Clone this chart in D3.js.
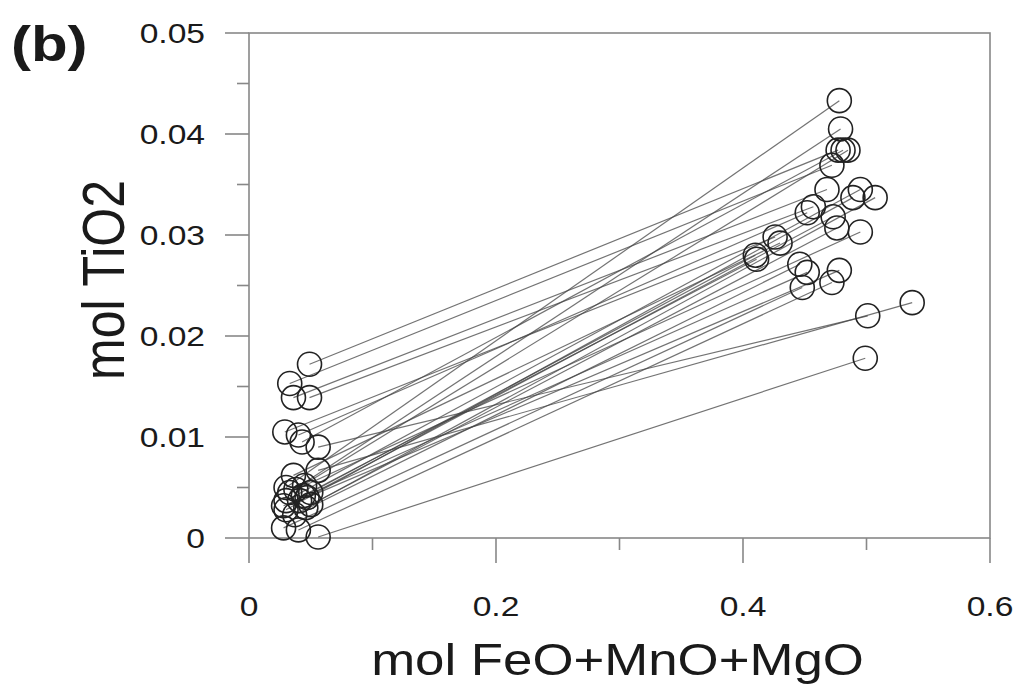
<!DOCTYPE html>
<html>
<head>
<meta charset="utf-8">
<script src="https://cdn.jsdelivr.net/npm/d3@7"></script>
<style>
  html, body { margin: 0; padding: 0; background: #fff; }
  text { font-family: "Liberation Sans", Arial, sans-serif; fill: #1a1a1a; }
</style>
</head>
<body>
<svg id="chart" width="1021" height="698"></svg>
<script>
// Low (core) end of each tie-line
const lowX  = [0.049,0.033,0.036,0.049,0.029,0.040,0.043,0.056,0.056,0.036,0.030,0.038,0.050,0.044,0.030,0.041,0.050,0.030,0.037,0.046,0.028,0.040,0.056,0.033,0.045,0.028,0.047];
const lowY  = [0.0172,0.0153,0.0139,0.0139,0.0105,0.0102,0.0095,0.0090,0.0067,0.0062,0.0050,0.0048,0.0045,0.0042,0.0037,0.0037,0.0033,0.0028,0.0023,0.0030,0.0010,0.0008,0.0001,0.0045,0.0052,0.0032,0.0040];
// High end of each tie-line
const highX = [0.477,0.472,0.468,0.457,0.426,0.452,0.481,0.501,0.537,0.430,0.478,0.485,0.410,0.411,0.495,0.473,0.476,0.489,0.446,0.507,0.448,0.472,0.499,0.479,0.495,0.452,0.478];
const highY = [0.0384,0.0369,0.0345,0.0328,0.0298,0.0322,0.0384,0.0220,0.0233,0.0292,0.0433,0.0384,0.0280,0.0276,0.0345,0.0318,0.0307,0.0337,0.0271,0.0337,0.0248,0.0253,0.0178,0.0405,0.0303,0.0263,0.0265];

const xTicks = [0, 0.2, 0.4, 0.6];
const xMinor = [0.1, 0.3, 0.5];
const yTicks = [0, 0.01, 0.02, 0.03, 0.04, 0.05];
const yMinor = [0.005, 0.015, 0.025, 0.035, 0.045];
const xTickLabels = ["0", "0.2", "0.4", "0.6"];
const yTickLabels = ["0", "0.01", "0.02", "0.03", "0.04", "0.05"];

const svg = d3.select("#chart");
const x = d3.scaleLinear().domain([0, 0.6]).range([249, 990]);
const y = d3.scaleLinear().domain([0, 0.05]).range([538, 33]);
const SX = 1.2; // horizontal stretch of the original picture's text

// frame
svg.append("rect").attr("x", x(0)).attr("y", y(0.05))
  .attr("width", x(0.6) - x(0)).attr("height", y(0) - y(0.05))
  .attr("fill", "none").attr("stroke", "#888").attr("stroke-width", 1.6);

// x axis ticks
const xAxis = svg.append("g").attr("transform", `translate(0,${y(0)})`);
xAxis.selectAll("line.maj").data(xTicks).join("line")
  .attr("x1", d => x(d)).attr("x2", d => x(d)).attr("y1", 0).attr("y2", 25)
  .attr("stroke", "#888").attr("stroke-width", 1.6);
xAxis.selectAll("line.min").data(xMinor).join("line")
  .attr("x1", d => x(d)).attr("x2", d => x(d)).attr("y1", 0).attr("y2", 12)
  .attr("stroke", "#888").attr("stroke-width", 1.6);
xAxis.selectAll("text").data(xTicks).join("text")
  .attr("transform", d => `translate(${x(d)},78) scale(${SX},1)`)
  .attr("text-anchor", "middle").attr("font-size", 28)
  .text((d, i) => xTickLabels[i]);

// y axis ticks
const yAxis = svg.append("g").attr("transform", `translate(${x(0)},0)`);
yAxis.selectAll("line.maj").data(yTicks).join("line")
  .attr("x1", -24).attr("x2", 0).attr("y1", d => y(d)).attr("y2", d => y(d))
  .attr("stroke", "#888").attr("stroke-width", 1.6);
yAxis.selectAll("line.min").data(yMinor).join("line")
  .attr("x1", -12).attr("x2", 0).attr("y1", d => y(d)).attr("y2", d => y(d))
  .attr("stroke", "#888").attr("stroke-width", 1.6);
yAxis.selectAll("text").data(yTicks).join("text")
  .attr("transform", d => `translate(-44,${y(d) + 10}) scale(${SX},1)`)
  .attr("text-anchor", "end").attr("font-size", 28)
  .text((d, i) => yTickLabels[i]);

// tie lines
const idx = d3.range(lowX.length);
svg.append("g").selectAll("line").data(idx).join("line")
  .attr("x1", i => x(lowX[i])).attr("y1", i => y(lowY[i]))
  .attr("x2", i => x(highX[i])).attr("y2", i => y(highY[i]))
  .attr("stroke", "#444").attr("stroke-opacity", 0.75).attr("stroke-width", 1.2);

// circles
const pts = idx.map(i => [lowX[i], lowY[i]]).concat(idx.map(i => [highX[i], highY[i]]));
svg.append("g").selectAll("circle").data(pts).join("circle")
  .attr("cx", d => x(d[0])).attr("cy", d => y(d[1])).attr("r", 12)
  .attr("fill", "none").attr("stroke", "#222").attr("stroke-width", 1.6);

// titles
svg.append("text")
  .attr("transform", `translate(${(x(0) + x(0.6)) / 2 - 2},675) scale(${SX},1)`)
  .attr("text-anchor", "middle").attr("font-size", 44)
  .text("mol FeO+MnO+MgO");
svg.append("text")
  .attr("transform", `translate(124,280) rotate(-90) scale(1,${SX})`)
  .attr("text-anchor", "middle").attr("font-size", 50)
  .text("mol TiO2");
svg.append("text")
  .attr("transform", `translate(11,61) scale(${SX},1)`)
  .attr("font-size", 50).attr("font-weight", "bold")
  .text("(b)");
</script>
</body>
</html>
